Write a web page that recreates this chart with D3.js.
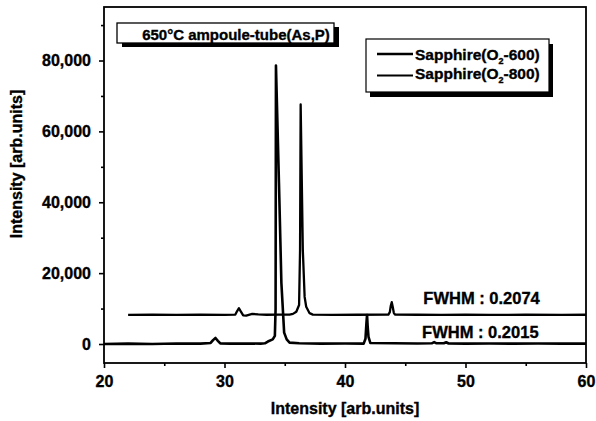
<!DOCTYPE html>
<html>
<head>
<meta charset="utf-8">
<script src="https://cdn.jsdelivr.net/npm/d3@7"></script>
<style>
    body { margin: 0; background: #fff; }
    text { font-family: "Liberation Sans", Arial, sans-serif; font-weight: bold; fill: #000; stroke: #000; stroke-width: 0.35px; }
</style>
</head>
<body>
<div class="container"></div>
<script>
// ***********************************************
// data: [2theta, intensity]

var sapphire600 = [
    [20, 0], [22, 100], [24, 0], [26, 150], [28, 100],
    [28.85, 300], [29.05, 1100], [29.25, 1700], [29.45, 900], [29.65, 150],
    [30.5, 100], [32, 150], [33, 100], [33.35, 200], [33.6, 700],
    [34.0, 1300], [34.18, 2300], [34.24, 10000], [34.27, 78600], [34.52, 45500],
    [34.72, 17300], [34.95, 3200], [35.16, 1300], [35.4, 400], [36.2, 200],
    [38, 100], [40, 150], [41.55, 100], [41.7, 1500], [41.78, 6000],
    [41.83, 8200], [41.88, 5000], [41.95, 2000], [42.1, 300], [44, 200],
    [46, 150], [47.2, 200], [47.4, 550], [47.6, 200], [48.2, 200],
    [48.4, 500], [48.6, 150], [50, 100], [52, 150], [54, 100],
    [56, 150], [58, 100], [60, 100]
];

var sapphire800 = [
    [22, 8200], [24, 8250], [26, 8200], [28, 8250], [30, 8200],
    [30.9, 8300], [31.05, 9300], [31.2, 10100], [31.35, 9200], [31.55, 8100],
    [31.8, 8000], [32.3, 8500], [32.8, 8350], [33.5, 8250], [34.5, 8300],
    [35.4, 8300], [35.68, 8500], [35.96, 9100], [36.19, 11000], [36.27, 26500],
    [36.32, 67600], [36.5, 26500], [36.65, 13300], [36.78, 10500], [37.06, 8700],
    [37.33, 8300], [39, 8200], [41, 8250], [43.6, 8300], [43.72, 9000],
    [43.8, 10800], [43.88, 11800], [43.96, 10500], [44.05, 8800], [44.15, 8300],
    [46, 8250], [48, 8200], [50, 8250], [52, 8200], [55, 8250],
    [58, 8200], [60, 8250]
];

var xTicks = [20, 30, 40, 50, 60];
var xMinorTicks = [25, 35, 45, 55];
var yTicks = [0, 20000, 40000, 60000, 80000];
var yMinorTicks = [10000, 30000, 50000, 70000, 90000];

var seriesNames = ["-600)", "-800)"];
var fwhmLabels = ["FWHM : 0.2074", "FWHM : 0.2015"];
var titleText = "650°C ampoule-tube(As,P)";
var axisTitle = "Intensity [arb.units]";

// ***********************************************

var width = 596;
var height = 421;
var margin = { top: 7, right: 10, bottom: 58, left: 104 };
var plotW = width - margin.left - margin.right;
var plotH = height - margin.top - margin.bottom;

var svg = d3
        .select(".container")
        .append("svg")
            .attr("width", width)
            .attr("height", height);

var g = svg.append("g")
        .attr("transform", "translate(" + margin.left + "," + margin.top + ")");

var x = d3.scaleLinear().domain([20, 60]).range([0, plotW]);
var y = d3.scaleLinear().domain([-5360, 95100]).range([plotH, 0]);

// axes
var xAxis = g.append("g")
        .attr("transform", "translate(0," + plotH + ")")
        .call(d3.axisBottom(x).tickValues(xTicks).tickSize(5).tickPadding(8).tickFormat(d3.format("d")));
var xMinor = g.append("g")
        .attr("transform", "translate(0," + plotH + ")")
        .call(d3.axisBottom(x).tickValues(xMinorTicks).tickSize(3).tickFormat(""));

var yAxis = g.append("g")
        .call(d3.axisLeft(y).tickValues(yTicks).tickSize(5).tickPadding(8).tickFormat(d3.format(",")));
var yMinor = g.append("g")
        .call(d3.axisLeft(y).tickValues(yMinorTicks).tickSize(3).tickFormat(""));

[xAxis, xMinor, yAxis, yMinor].forEach(a => {
    a.select(".domain").remove();
    a.selectAll("line").attr("stroke", "#000").attr("stroke-width", 1.6);
    a.selectAll("text").style("font-size", "16px").style("font-weight", "bold")
        .attr("font-family", null);
});

// frame
g.append("rect")
    .attr("x", 0)
    .attr("y", 0)
    .attr("width", plotW)
    .attr("height", plotH)
    .attr("fill", "none")
    .attr("stroke", "#000")
    .attr("stroke-width", 1.8);

// lines
var line = d3.line()
        .x(d => x(d[0]))
        .y(d => y(d[1]));

g.append("path")
    .datum(sapphire800)
    .attr("d", line)
    .attr("fill", "none")
    .attr("stroke", "#000")
    .attr("stroke-width", 2.3)
    .attr("stroke-linejoin", "round");

g.append("path")
    .datum(sapphire600)
    .attr("d", line)
    .attr("fill", "none")
    .attr("stroke", "#000")
    .attr("stroke-width", 2.6)
    .attr("stroke-linejoin", "round");

// FWHM labels
g.append("text")
    .attr("x", x(46.5))
    .attr("y", y(11300))
    .style("font-size", "16.5px")
    .text(fwhmLabels[0]);

g.append("text")
    .attr("x", x(46.4))
    .attr("y", y(1600))
    .style("font-size", "16.5px")
    .text(fwhmLabels[1]);

// title box
var tb = { x: 117, y: 23, w: 217, h: 20 };
svg.append("rect")
    .attr("x", tb.x + 5).attr("y", tb.y + 4)
    .attr("width", tb.w).attr("height", tb.h)
    .attr("fill", "#000");
svg.append("rect")
    .attr("x", tb.x).attr("y", tb.y)
    .attr("width", tb.w).attr("height", tb.h)
    .attr("fill", "#fff")
    .attr("stroke", "#000")
    .attr("stroke-width", 1.3);
svg.append("text")
    .attr("x", 236)
    .attr("y", 39.5)
    .attr("text-anchor", "middle")
    .style("font-size", "15px")
    .text(titleText);

// legend box
var lb = { x: 366, y: 39, w: 183, h: 53 };
svg.append("rect")
    .attr("x", lb.x + 4).attr("y", lb.y + 5)
    .attr("width", lb.w).attr("height", lb.h)
    .attr("fill", "#000");
svg.append("rect")
    .attr("x", lb.x).attr("y", lb.y)
    .attr("width", lb.w).attr("height", lb.h)
    .attr("fill", "#fff")
    .attr("stroke", "#000")
    .attr("stroke-width", 1.2);

var legendRows = [
    { name: seriesNames[0], ly: 54, ty: 59.5, sw: 2.6 },
    { name: seriesNames[1], ly: 75.5, ty: 78.5, sw: 2.0 }
];
legendRows.forEach(r => {
    svg.append("line")
        .attr("x1", 377).attr("x2", 413)
        .attr("y1", r.ly).attr("y2", r.ly)
        .attr("stroke", "#000")
        .attr("stroke-width", r.sw);
    var t = svg.append("text")
        .attr("x", 415)
        .attr("y", r.ty)
        .style("font-size", "15.5px");
    t.append("tspan").text("Sapphire(O");
    t.append("tspan").attr("dy", 4).style("font-size", "9px").text("2");
    t.append("tspan").attr("dy", -4).text(r.name);
});

// axis titles
svg.append("text")
    .attr("x", 345)
    .attr("y", 413.5)
    .attr("text-anchor", "middle")
    .style("font-size", "16px")
    .text(axisTitle);

svg.append("text")
    .attr("transform", "translate(22,164) rotate(-90)")
    .attr("text-anchor", "middle")
    .style("font-size", "16px")
    .text(axisTitle);
</script>
</body>
</html>
